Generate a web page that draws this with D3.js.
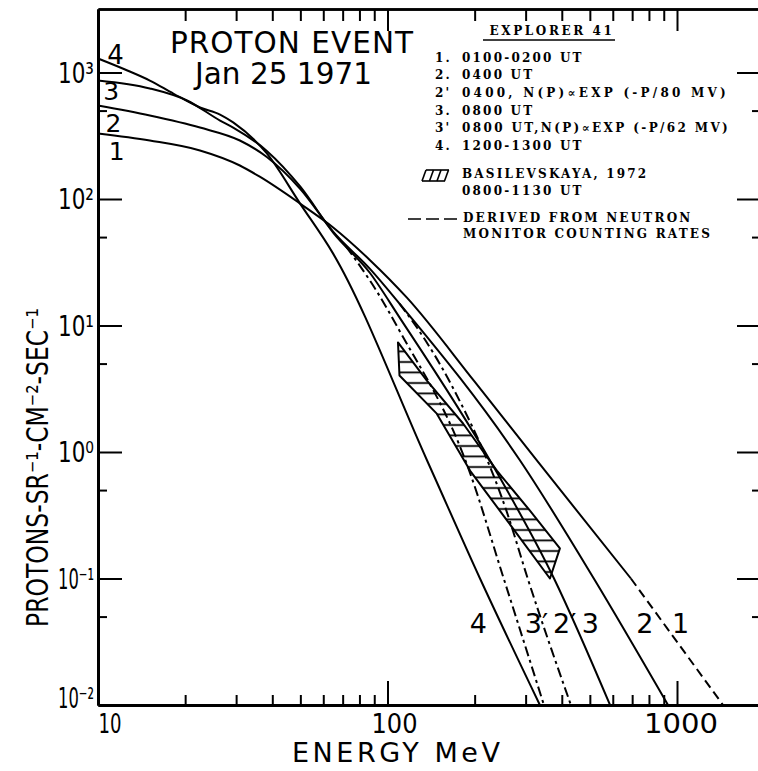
<!DOCTYPE html>
<html><head><meta charset="utf-8">
<script src="https://cdn.jsdelivr.net/npm/d3@7"></script>
<style>body{margin:0;background:#fff}svg{display:block}</style>
</head><body>
<svg id="c" width="758" height="771"></svg>
<script>
// ---------------- data (energy MeV, flux protons/(sr cm2 s)) ----------------
const curve1 = [[10,330],[15.1,290],[22.5,242],[30.9,184],[36.2,150],[49.9,92],[64.9,59.6],[87.2,32.7],[116.7,16.6],[200,3.6],[328,0.857],[693,0.1]];
const curve1Derived = [[693,0.1],[1442,0.01]];
const curve2 = [[10,548],[15.1,457],[22.5,367],[30.9,290],[38.3,215],[50,120],[65,55],[87,28],[110,14.9],[287,0.857],[516,0.1],[931,0.01]];
const curve2Exp = [[110,14.9],[126.5,9.6],[168,3.24],[259,0.33],[305,0.1],[430,0.01]];
const curve3 = [[10,865],[15.1,748],[20.3,601],[26.4,417],[29.3,367],[38.3,240],[50,125],[65,54],[87,26],[110,11.6],[226,0.857],[376,0.1],[587,0.01]];
const curve3Exp = [[72,42],[92,18.5],[110,9.1],[190,0.75],[252,0.1],[347,0.01]];
const curve4 = [[10,1290],[12.4,1056],[15.1,864],[18.2,682],[22.5,529],[26.4,465],[29.3,403],[38.3,229],[49.9,92],[64.9,37],[137,0.857],[208.7,0.1],[336,0.01]];
const basilevskayaUpper = [[108.7,7.35],[136.8,3.67],[182.4,1.68],[239,0.71],[310,0.345],[394,0.173],[364,0.1]];
const basilevskayaLower = [[259,0.287],[193,0.71],[148,2.01],[110,4.03]];

const xMajorTicks = [100,1000];
const xMinorTicks = [20,30,40,50,60,70,80,90,200,300,400,500,600,700,800,900];
const xTickLabels = [10,100,1000];
const yMajorTicks = [0.01,0.1,1,10,100,1000];
const yTickLabels = ["10\u207B\u00B2","10\u207B\u00B9","10\u2070","10\u00B9","10\u00B2","10\u00B3"];
const yMinorTicks = [0.05,0.5,5,50,500];

const legendRows = [["1.","0100-0200 UT"],["2.","0400 UT"],["2'","0400, N(P)\u221DEXP (-P/80 MV)"],["3.","0800 UT"],["3'","0800 UT,N(P)\u221DEXP (-P/62 MV)"],["4.","1200-1300 UT"]];

// ---------------- layout ----------------
const L=98, B=705, T=9, R=760, xDec=289.5, yDec=126.5;
const x = d3.scaleLog().domain([10, 10*Math.pow(10,(R-L)/xDec)]).range([L,R]);
const y = d3.scaleLog().domain([0.01, 0.01*Math.pow(10,(B-T)/yDec)]).range([B,T]);
const svg = d3.select("#c");
const SANS = "DejaVu Sans", SERIF = "DejaVu Serif";

// hatch pattern
const defs = svg.append("defs");
const pat = defs.append("pattern").attr("id","hatch").attr("patternUnits","userSpaceOnUse")
  .attr("width",10).attr("height",10.5);
pat.append("line").attr("x1",0).attr("x2",10).attr("y1",5).attr("y2",5)
  .attr("stroke","#000").attr("stroke-width",1.8);

// ---------------- axes ----------------
function styleAxis(g, w){
  g.selectAll("path.domain").attr("stroke","#000").attr("stroke-width",w);
  g.selectAll(".tick line").attr("stroke","#000").attr("stroke-width",2);
  g.selectAll(".tick text").remove();
}
const axes = svg.append("g");
styleAxis(axes.append("g").attr("transform",`translate(0,${B})`)
  .call(d3.axisBottom(x).tickValues(xMinorTicks).tickSize(-10).tickSizeOuter(0).tickFormat("")),3);
styleAxis(axes.append("g").attr("transform",`translate(0,${B})`)
  .call(d3.axisBottom(x).tickValues(xMajorTicks).tickSize(-24).tickSizeOuter(0).tickFormat("")),3);
styleAxis(axes.append("g").attr("transform",`translate(0,${T})`)
  .call(d3.axisTop(x).tickValues(xMinorTicks).tickSize(-12).tickSizeOuter(0).tickFormat("")),2.5);
styleAxis(axes.append("g").attr("transform",`translate(0,${T})`)
  .call(d3.axisTop(x).tickValues(xMajorTicks).tickSize(-22).tickSizeOuter(0).tickFormat("")),2.5);
styleAxis(axes.append("g").attr("transform",`translate(${L},0)`)
  .call(d3.axisLeft(y).tickValues(yMinorTicks).tickSize(-9).tickSizeOuter(0).tickFormat("")),3);
styleAxis(axes.append("g").attr("transform",`translate(${L},0)`)
  .call(d3.axisLeft(y).tickValues(yMajorTicks.filter(v=>v>0.01)).tickSize(-24).tickSizeOuter(0).tickFormat("")),3);
styleAxis(axes.append("g").attr("transform",`translate(${R},0)`)
  .call(d3.axisRight(y).tickValues(yMinorTicks).tickSize(-8).tickSizeOuter(0).tickFormat("")),3);
styleAxis(axes.append("g").attr("transform",`translate(${R},0)`)
  .call(d3.axisRight(y).tickValues(yMajorTicks.filter(v=>v>0.01)).tickSize(-23).tickSizeOuter(0).tickFormat("")),3);

// tick labels
const xLabW = {10:23,100:46,1000:74};
xTickLabels.forEach(v=>{
  const isFirst = v===10;
  svg.append("text").attr("x", isFirst ? x(v)+0.5 : x(v)+(v===100?7:4)).attr("y",B+28)
    .attr("text-anchor", isFirst ? "start" : "middle")
    .attr("font-family",SANS).attr("font-size",27)
    .attr("textLength",xLabW[v]).attr("lengthAdjust","spacingAndGlyphs").text(String(v));
});
yMajorTicks.forEach((v,i)=>{
  svg.append("text").attr("x",L-4).attr("y",y(v)+(v===0.01?3:10)).attr("text-anchor","end")
    .attr("font-family",SANS).attr("font-size",28)
    .attr("textLength",36).attr("lengthAdjust","spacingAndGlyphs").text(yTickLabels[i]);
});

// axis titles
svg.append("text").attr("x",396).attr("y",762).attr("text-anchor","middle")
  .attr("font-family",SANS).attr("font-size",27)
  .attr("textLength",208).attr("lengthAdjust","spacing").text("ENERGY MeV");
svg.append("text").attr("transform","translate(48,467.5) rotate(-90)")
  .attr("text-anchor","middle").attr("font-family",SANS).attr("font-size",30)
  .attr("textLength",319).attr("lengthAdjust","spacingAndGlyphs")
  .text("PROTONS-SR\u207B\u00B9-CM\u207B\u00B2-SEC\u207B\u00B9");

// title
svg.append("text").attr("x",170).attr("y",53).attr("font-family",SANS).attr("font-size",29.5)
  .attr("textLength",243).attr("lengthAdjust","spacing").text("PROTON EVENT");
svg.append("text").attr("x",195).attr("y",84).attr("font-family",SANS).attr("font-size",29.5)
  .attr("textLength",177).attr("lengthAdjust","spacing").text("Jan 25 1971");

// ---------------- Basilevskaya band ----------------
const poly = basilevskayaUpper.concat(basilevskayaLower);
const polyLine = d3.line().x(d=>x(d[0])).y(d=>y(d[1]));
svg.append("path").attr("d",polyLine(poly)+"Z").attr("fill","url(#hatch)")
  .attr("stroke","#000").attr("stroke-width",2).attr("stroke-linejoin","round");

// ---------------- curves ----------------
const line = d3.line().x(d=>x(d[0])).y(d=>y(d[1])).curve(d3.curveMonotoneX);
function draw(data, dash){
  svg.append("path").attr("d",line(data)).attr("fill","none").attr("stroke","#000")
    .attr("stroke-width",2).attr("stroke-linejoin","round")
    .attr("stroke-dasharray",dash||null);
}
draw(curve1); draw(curve1Derived,"9,5");
draw(curve2); draw(curve2Exp,"10,4,3,4");
draw(curve3); draw(curve3Exp,"10,4,3,4");
draw(curve4);

// curve labels
function lab(t, px, py, anchor, fs){
  svg.append("text").attr("x",px).attr("y",py).attr("text-anchor",anchor||"middle")
    .attr("font-family",SANS).attr("font-size",fs||27).text(t);
}
lab("4", x(11.5), y(curve4[0][1])+5, "middle", 26);
lab("3", x(11.1), y(curve3[0][1])+20, "middle", 25);
lab("2", x(11.3), y(curve2[0][1])+26, "middle", 25);
lab("1", x(11.6), y(curve1[0][1])+27, "middle", 25);
lab("4", x(206), 633);
lab("3\u2032", x(319)-8.5, 633, "start");
lab("2\u2032", x(399)-8.5, 633, "start");
lab("3", x(502), 633);
lab("2", x(775), 633);
lab("1", x(1028), 633);

// ---------------- legend ----------------
const lg = svg.append("g").attr("font-family",SERIF).attr("font-weight","bold").attr("font-size",12)
  .attr("letter-spacing",2.2);
lg.append("text").attr("x",552).attr("y",35).attr("text-anchor","middle").attr("letter-spacing",2.6).text("EXPLORER 41");
lg.append("line").attr("x1",483).attr("x2",615).attr("y1",40).attr("y2",40).attr("stroke","#000").attr("stroke-width",1.5);
const rowLen = {2:266, 4:268};
legendRows.forEach(([n,t],i)=>{
  const yy = 61.5 + i*17.7;
  lg.append("text").attr("x",435).attr("y",yy).text(n);
  const tt = lg.append("text").attr("x",462).attr("y",yy).text(t);
  if (rowLen[i]) tt.attr("textLength",rowLen[i]).attr("lengthAdjust","spacing");
});
lg.append("text").attr("x",462).attr("y",178).text("BASILEVSKAYA, 1972");
lg.append("text").attr("x",462).attr("y",195).text("0800-1130 UT");
lg.append("text").attr("x",463).attr("y",221.5).text("DERIVED FROM NEUTRON");
lg.append("text").attr("x",463).attr("y",238).text("MONITOR COUNTING RATES");
// hatch symbol
const hs = svg.append("g").attr("stroke","#000").attr("stroke-width",1.6);
hs.append("line").attr("x1",426).attr("x2",449).attr("y1",170).attr("y2",170);
hs.append("line").attr("x1",422).attr("x2",445).attr("y1",181).attr("y2",181);
[0,1,2,3].forEach(k=>hs.append("line").attr("x1",422+k*7.5).attr("y1",181).attr("x2",426+k*7.5).attr("y2",170));
// dashed symbol
svg.append("line").attr("x1",408).attr("x2",458).attr("y1",219).attr("y2",219)
  .attr("stroke","#000").attr("stroke-width",1.6).attr("stroke-dasharray","13,5");
</script>
</body></html>
